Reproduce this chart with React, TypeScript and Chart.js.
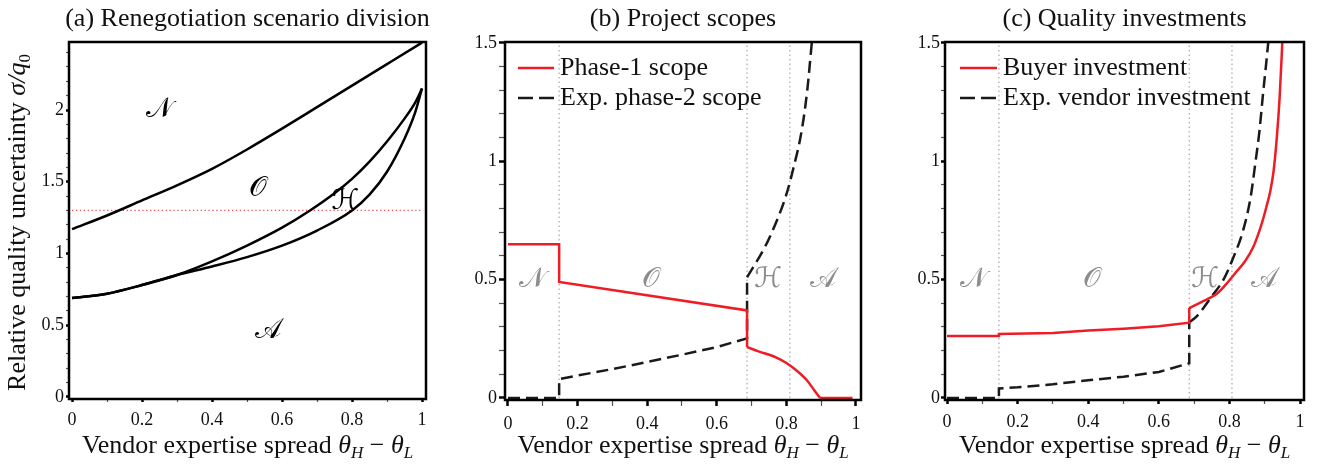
import React, { useEffect, useRef } from 'react';
import { Chart, registerables } from 'chart.js';
Chart.register(...registerables);

const FONT = "'Liberation Serif', 'Times New Roman', serif";
const SCRIPT_FONT = "'DejaVu Serif', 'DejaVu Sans', 'Liberation Serif', serif";
const RED = '#ee1c25';
const GRAY_LABEL = '#8c8c8c';

// ---------- shared tick labels ----------
const xTickLabels = ['0', '0.2', '0.4', '0.6', '0.8', '1'];
const yTickLabelsA = ['0', '0.5', '1', '1.5', '2'];
const yTickLabelsBC = ['0', '0.5', '1', '1.5'];

// ---------- panel (a): renegotiation scenario division ----------
const aNOx = [0, 0.1, 0.2, 0.3, 0.4, 0.5, 0.6, 0.7, 0.8, 0.9, 1.0];
const aNOy = [1.17, 1.265, 1.37, 1.475, 1.59, 1.725, 1.87, 2.02, 2.17, 2.32, 2.47];
const aOHx = [0, 0.1, 0.2, 0.3, 0.4, 0.5, 0.6, 0.68, 0.75, 0.8, 0.85, 0.9, 0.95, 0.98, 1.0];
const aOHy = [0.69, 0.72, 0.78, 0.85, 0.945, 1.055, 1.18, 1.3, 1.42, 1.52, 1.64, 1.78, 1.94, 2.05, 2.15];
const aHAx = [0, 0.1, 0.2, 0.3, 0.4, 0.5, 0.6, 0.7, 0.8, 0.85, 0.9, 0.95, 0.98, 1.0];
const aHAy = [0.69, 0.72, 0.78, 0.85, 0.91, 0.975, 1.055, 1.16, 1.3, 1.41, 1.57, 1.8, 1.98, 2.15];
const aThrX = [0, 1];
const aThrY = [1.3, 1.3];
const aRegionNames = ['𝒩', '𝒪', 'ℋ', '𝒜'];
const aRegionX = [0.25, 0.53, 0.78, 0.56];
const aRegionY = [2.0, 1.45, 1.36, 0.46];

// ---------- panel (b): project scopes ----------
// phase-1 scope: piecewise part (N and O regions) and curved part (H and A regions)
const bP1Ax = [0, 0.147, 0.147, 0.687, 0.687];
const bP1Ay = [0.65, 0.65, 0.49, 0.37, 0.215];
const bP1Bx = [0.687, 0.72, 0.77, 0.8, 0.83, 0.86, 0.88, 0.897];
const bP1By = [0.215, 0.197, 0.172, 0.148, 0.115, 0.073, 0.033, 0.0];
const bP1Cx = [0.897, 0.99];
const bP1Cy = [0.0, 0.0];
// expected phase-2 scope
const bP2Ax = [0, 0.147, 0.147, 0.2, 0.3, 0.4, 0.5, 0.6, 0.687, 0.687];
const bP2Ay = [0, 0, 0.08, 0.095, 0.122, 0.152, 0.183, 0.215, 0.252, 0.51];
const bP2Bx = [0.687, 0.739, 0.77, 0.8, 0.82, 0.844, 0.86, 0.873, 0.88];
const bP2By = [0.51, 0.64, 0.74, 0.86, 0.97, 1.13, 1.3, 1.5, 1.6];
const bBounds = [0.147, 0.687, 0.81];
const bLegend = ['Phase-1 scope', 'Exp. phase-2 scope'];
const bRegionX = [0.07, 0.41, 0.747, 0.905];

// ---------- panel (c): quality investments ----------
const cBAx = [0, 0.147, 0.147, 0.3, 0.4, 0.5, 0.6, 0.686, 0.686];
const cBAy = [0.262, 0.262, 0.27, 0.275, 0.285, 0.293, 0.303, 0.318, 0.38];
const cBBx = [0.686, 0.72, 0.764, 0.79, 0.816, 0.845, 0.868, 0.89, 0.905, 0.915, 0.925, 0.934, 0.942, 0.948, 0.952];
const cBBy = [0.38, 0.405, 0.44, 0.48, 0.527, 0.58, 0.64, 0.73, 0.81, 0.87, 0.96, 1.1, 1.27, 1.45, 1.6];
const cVAx = [0, 0.147, 0.147, 0.2, 0.3, 0.4, 0.5, 0.6, 0.686, 0.686];
const cVAy = [0, 0, 0.04, 0.045, 0.058, 0.075, 0.09, 0.11, 0.147, 0.32];
const cVBx = [0.686, 0.707, 0.75, 0.783, 0.81, 0.839, 0.86, 0.873, 0.885, 0.894, 0.903, 0.911];
const cVBy = [0.32, 0.345, 0.43, 0.5, 0.59, 0.71, 0.85, 0.99, 1.13, 1.27, 1.4, 1.52];
const cBounds = [0.147, 0.686, 0.807];
const cLegend = ['Buyer investment', 'Exp. vendor investment'];
const cRegionX = [0.076, 0.41, 0.73, 0.897];
const bcRegionNames = ['𝒩', '𝒪', 'ℋ', '𝒜'];
const bcRegionY = 0.5;

const titles = ['(a) Renegotiation scenario division', '(b) Project scopes', '(c) Quality investments'];

type Pt = { x: number; y: number };
const pts = (xs: number[], ys: number[]): Pt[] => xs.map((x, i) => ({ x, y: ys[i] }));

type Run = { t: string; size?: number; italic?: boolean; dy?: number };
function fontOf(r: Run) {
  return `${r.italic ? 'italic ' : ''}${r.size || 26}px ${FONT}`;
}
function drawRuns(ctx: CanvasRenderingContext2D, runs: Run[], cx: number, y: number) {
  let total = 0;
  const ws = runs.map((r) => {
    ctx.font = fontOf(r);
    const w = ctx.measureText(r.t).width;
    total += w;
    return w;
  });
  let x = cx - total / 2;
  ctx.textAlign = 'left';
  ctx.textBaseline = 'alphabetic';
  runs.forEach((r, i) => {
    ctx.font = fontOf(r);
    ctx.fillText(r.t, x, y + (r.dy || 0));
    x += ws[i];
  });
}

const xTitleRuns: Run[] = [
  { t: 'Vendor expertise spread ' },
  { t: 'θ', italic: true },
  { t: 'H', italic: true, size: 17, dy: 5 },
  { t: ' − ' },
  { t: 'θ', italic: true },
  { t: 'L', italic: true, size: 17, dy: 5 },
];
const yTitleRuns: Run[] = [
  { t: 'Relative quality uncertainty ' },
  { t: 'σ/q', italic: true },
  { t: '0', size: 17, dy: 5 },
];

type LegendItem = { text: string; color: string; dash: number[] };

type PanelSpec = {
  left: number;
  width: number;
  frame: { l: number; r: number; t: number; b: number };
  xMin: number;
  xMax: number;
  yMin: number;
  yMax: number;
  yLabels: string[];
  yTickPad: number;
  tickLen: number;
  title: string;
  yTitle: boolean;
  datasets: any[];
  regions: { names: string[]; xs: number[]; ys: number[]; color: string; size: number };
  legend?: { items: LegendItem[]; lineX0: number; lineX1: number; textX: number };
};

function makeConfig(s: PanelSpec): any {
  const xMajor = xTickLabels.map(parseFloat);
  const yMajor = s.yLabels.map(parseFloat);
  const isMaj = (arr: number[], v: number) => arr.some((m) => Math.abs(m - v) < 1e-6);
  const xTicks: number[] = [];
  for (let i = 0; i <= 10; i++) xTicks.push(Math.round(i * 10) / 100);
  const yTicks: number[] = [];
  for (let i = 0; i * 0.1 <= s.yMax + 1e-9; i++) {
    const v = Math.round(i * 10) / 100;
    if (v <= s.yMax) yTicks.push(v);
  }
  const canvasH = 464;

  const decor = {
    id: 'decor',
    afterDraw(chart: any) {
      const { ctx, chartArea: ca, scales } = chart;
      const xs = scales.x;
      const ys = scales.y;
      ctx.save();
      // frame
      ctx.lineWidth = 2.5;
      ctx.strokeStyle = '#000';
      ctx.setLineDash([]);
      ctx.strokeRect(ca.left, ca.top, ca.right - ca.left, ca.bottom - ca.top);
      // title
      ctx.fillStyle = '#111';
      const cx = (ca.left + ca.right) / 2;
      drawRuns(ctx, [{ t: s.title }], cx, 26);
      // x axis title
      drawRuns(ctx, xTitleRuns, cx, 453);
      // y axis title
      if (s.yTitle) {
        ctx.save();
        ctx.translate(25, (ca.top + ca.bottom) / 2 + 2);
        ctx.rotate(-Math.PI / 2);
        drawRuns(ctx, yTitleRuns, 0, 0);
        ctx.restore();
      }
      // region labels
      ctx.fillStyle = s.regions.color;
      ctx.font = `${s.regions.size}px ${SCRIPT_FONT}`;
      ctx.textAlign = 'center';
      ctx.textBaseline = 'middle';
      s.regions.names.forEach((n, i) => {
        ctx.fillText(n, xs.getPixelForValue(s.regions.xs[i]), ys.getPixelForValue(s.regions.ys[i]));
      });
      // legend
      if (s.legend) {
        const L = s.legend;
        L.items.forEach((it, i) => {
          const y = 68 + i * 30;
          ctx.strokeStyle = it.color;
          ctx.lineWidth = 2.5;
          ctx.setLineDash(it.dash);
          ctx.beginPath();
          ctx.moveTo(ca.left + L.lineX0, y);
          ctx.lineTo(ca.left + L.lineX1, y);
          ctx.stroke();
          ctx.setLineDash([]);
          ctx.fillStyle = '#111';
          ctx.font = `26px ${FONT}`;
          ctx.textAlign = 'left';
          ctx.textBaseline = 'alphabetic';
          ctx.fillText(it.text, ca.left + L.textX, y + 7);
        });
      }
      ctx.restore();
    },
  };

  return {
    type: 'scatter',
    data: { datasets: s.datasets },
    options: {
      animation: false,
      responsive: false,
      maintainAspectRatio: false,
      events: [],
      layout: { padding: { top: s.frame.t, right: s.left + s.width - s.frame.r, left: 0, bottom: 0 } },
      plugins: { legend: { display: false }, tooltip: { enabled: false }, title: { display: false } },
      elements: { point: { radius: 0 }, line: { tension: 0 } },
      scales: {
        x: {
          type: 'linear',
          min: s.xMin,
          max: s.xMax,
          afterFit: (sc: any) => {
            sc.height = canvasH - s.frame.b;
          },
          afterBuildTicks: (sc: any) => {
            sc.ticks = xTicks.map((v) => ({ value: v }));
          },
          border: { display: false },
          grid: {
            drawOnChartArea: false,
            drawTicks: true,
            tickLength: s.tickLen,
            tickColor: (c: any) => (c.tick && isMaj(xMajor, c.tick.value) ? '#000' : '#555'),
            tickWidth: (c: any) => (c.tick && isMaj(xMajor, c.tick.value) ? 2.5 : 1.2),
          },
          ticks: {
            autoSkip: false,
            maxRotation: 0,
            padding: 7,
            color: '#111',
            font: { family: FONT, size: 18 },
            callback: (v: number) => {
              const i = xMajor.findIndex((m) => Math.abs(m - v) < 1e-6);
              return i >= 0 ? xTickLabels[i] : '';
            },
          },
        },
        y: {
          type: 'linear',
          min: s.yMin,
          max: s.yMax,
          afterFit: (sc: any) => {
            sc.width = s.frame.l - s.left;
          },
          afterBuildTicks: (sc: any) => {
            sc.ticks = yTicks.map((v) => ({ value: v }));
          },
          border: { display: false },
          grid: {
            drawOnChartArea: false,
            drawTicks: true,
            tickLength: s.tickLen,
            tickColor: (c: any) => (c.tick && isMaj(yMajor, c.tick.value) ? '#000' : '#555'),
            tickWidth: (c: any) => (c.tick && isMaj(yMajor, c.tick.value) ? 2.5 : 1.2),
          },
          ticks: {
            autoSkip: false,
            padding: s.yTickPad,
            color: '#111',
            font: { family: FONT, size: 18 },
            callback: (v: number) => {
              const i = yMajor.findIndex((m) => Math.abs(m - v) < 1e-6);
              return i >= 0 ? s.yLabels[i] : '';
            },
          },
        },
      },
    },
    plugins: [decor],
  };
}

const line = (data: Pt[], color: string, width: number, dash: number[] = [], label = '', smooth = false) => ({
  label,
  data,
  showLine: true,
  borderColor: color,
  backgroundColor: color,
  borderWidth: width,
  borderDash: dash,
  pointRadius: 0,
  fill: false,
  cubicInterpolationMode: smooth ? 'monotone' : 'default',
  tension: 0,
});

const vline = (x: number, yMax: number) => line(pts([x, x], [0, yMax]), '#a8a8a8', 1.2, [1.5, 3]);

const DASH = [12, 6];
const LEGEND_DASH = [15, 6];
const DARK = '#1a1a1a';

const specA: PanelSpec = {
  left: 0,
  width: 440,
  frame: { l: 69, r: 426, t: 42, b: 399 },
  xMin: -0.0086,
  xMax: 1.0114,
  yMin: -0.014,
  yMax: 2.474,
  yLabels: yTickLabelsA,
  yTickPad: 2,
  tickLen: 3,
  title: titles[0],
  yTitle: true,
  datasets: [
    line(pts(aNOx, aNOy), '#000', 2.5, [], '', true),
    line(pts(aOHx, aOHy), '#000', 2.5, [], '', true),
    line(pts(aHAx, aHAy), '#000', 2.5, [], '', true),
    line(pts(aThrX, aThrY), '#f05050', 1.3, [1.3, 2.6]),
  ],
  regions: { names: aRegionNames, xs: aRegionX, ys: aRegionY, color: '#000', size: 28 },
};

const specB: PanelSpec = {
  left: 440,
  width: 437,
  frame: { l: 505, r: 861, t: 42, b: 400 },
  xMin: -0.0086,
  xMax: 1.0144,
  yMin: -0.0085,
  yMax: 1.504,
  yLabels: yTickLabelsBC,
  yTickPad: 2,
  tickLen: 6,
  title: titles[1],
  yTitle: false,
  datasets: [
    line(pts(bP1Ax, bP1Ay), RED, 2.5, [], bLegend[0]),
    line(pts(bP1Bx, bP1By), RED, 2.5, [], bLegend[0], true),
    line(pts(bP1Cx, bP1Cy), RED, 2.5, [], bLegend[0]),
    line(pts(bP2Ax, bP2Ay), DARK, 2.5, DASH, bLegend[1]),
    line(pts(bP2Bx, bP2By), DARK, 2.5, DASH, bLegend[1], true),
    ...bBounds.map((x) => vline(x, 1.504)),
  ],
  regions: { names: bcRegionNames, xs: bRegionX, ys: bRegionX.map(() => bcRegionY), color: GRAY_LABEL, size: 28 },
  legend: {
    items: [
      { text: bLegend[0], color: RED, dash: [] },
      { text: bLegend[1], color: DARK, dash: LEGEND_DASH },
    ],
    lineX0: 13,
    lineX1: 49,
    textX: 55,
  },
};

const specC: PanelSpec = {
  left: 877,
  width: 440,
  frame: { l: 945, r: 1304, t: 42, b: 400 },
  xMin: -0.0057,
  xMax: 1.011,
  yMin: -0.0085,
  yMax: 1.504,
  yLabels: yTickLabelsBC,
  yTickPad: 1,
  tickLen: 4,
  title: titles[2],
  yTitle: false,
  datasets: [
    line(pts(cBAx, cBAy), RED, 2.5, [], cLegend[0]),
    line(pts(cBBx, cBBy), RED, 2.5, [], cLegend[0], true),
    line(pts(cVAx, cVAy), DARK, 2.5, DASH, cLegend[1]),
    line(pts(cVBx, cVBy), DARK, 2.5, DASH, cLegend[1], true),
    ...cBounds.map((x) => vline(x, 1.504)),
  ],
  regions: { names: bcRegionNames, xs: cRegionX, ys: cRegionX.map(() => bcRegionY), color: GRAY_LABEL, size: 28 },
  legend: {
    items: [
      { text: cLegend[0], color: RED, dash: [] },
      { text: cLegend[1], color: DARK, dash: LEGEND_DASH },
    ],
    lineX0: 15,
    lineX1: 52,
    textX: 58,
  },
};

function Panel({ spec }: { spec: PanelSpec }) {
  const ref = useRef<HTMLCanvasElement>(null);
  useEffect(() => {
    const chart = new Chart(ref.current as HTMLCanvasElement, makeConfig(spec));
    return () => chart.destroy();
  }, [spec]);
  return (
    <canvas
      ref={ref}
      width={spec.width}
      height={464}
      style={{ position: 'absolute', left: spec.left, top: 0, width: spec.width, height: 464 }}
    />
  );
}

export default function App() {
  return (
    <div style={{ position: 'absolute', left: 0, top: 0, width: 1317, height: 464, background: '#fff', overflow: 'hidden' }}>
      <Panel spec={specA} />
      <Panel spec={specB} />
      <Panel spec={specC} />
    </div>
  );
}
